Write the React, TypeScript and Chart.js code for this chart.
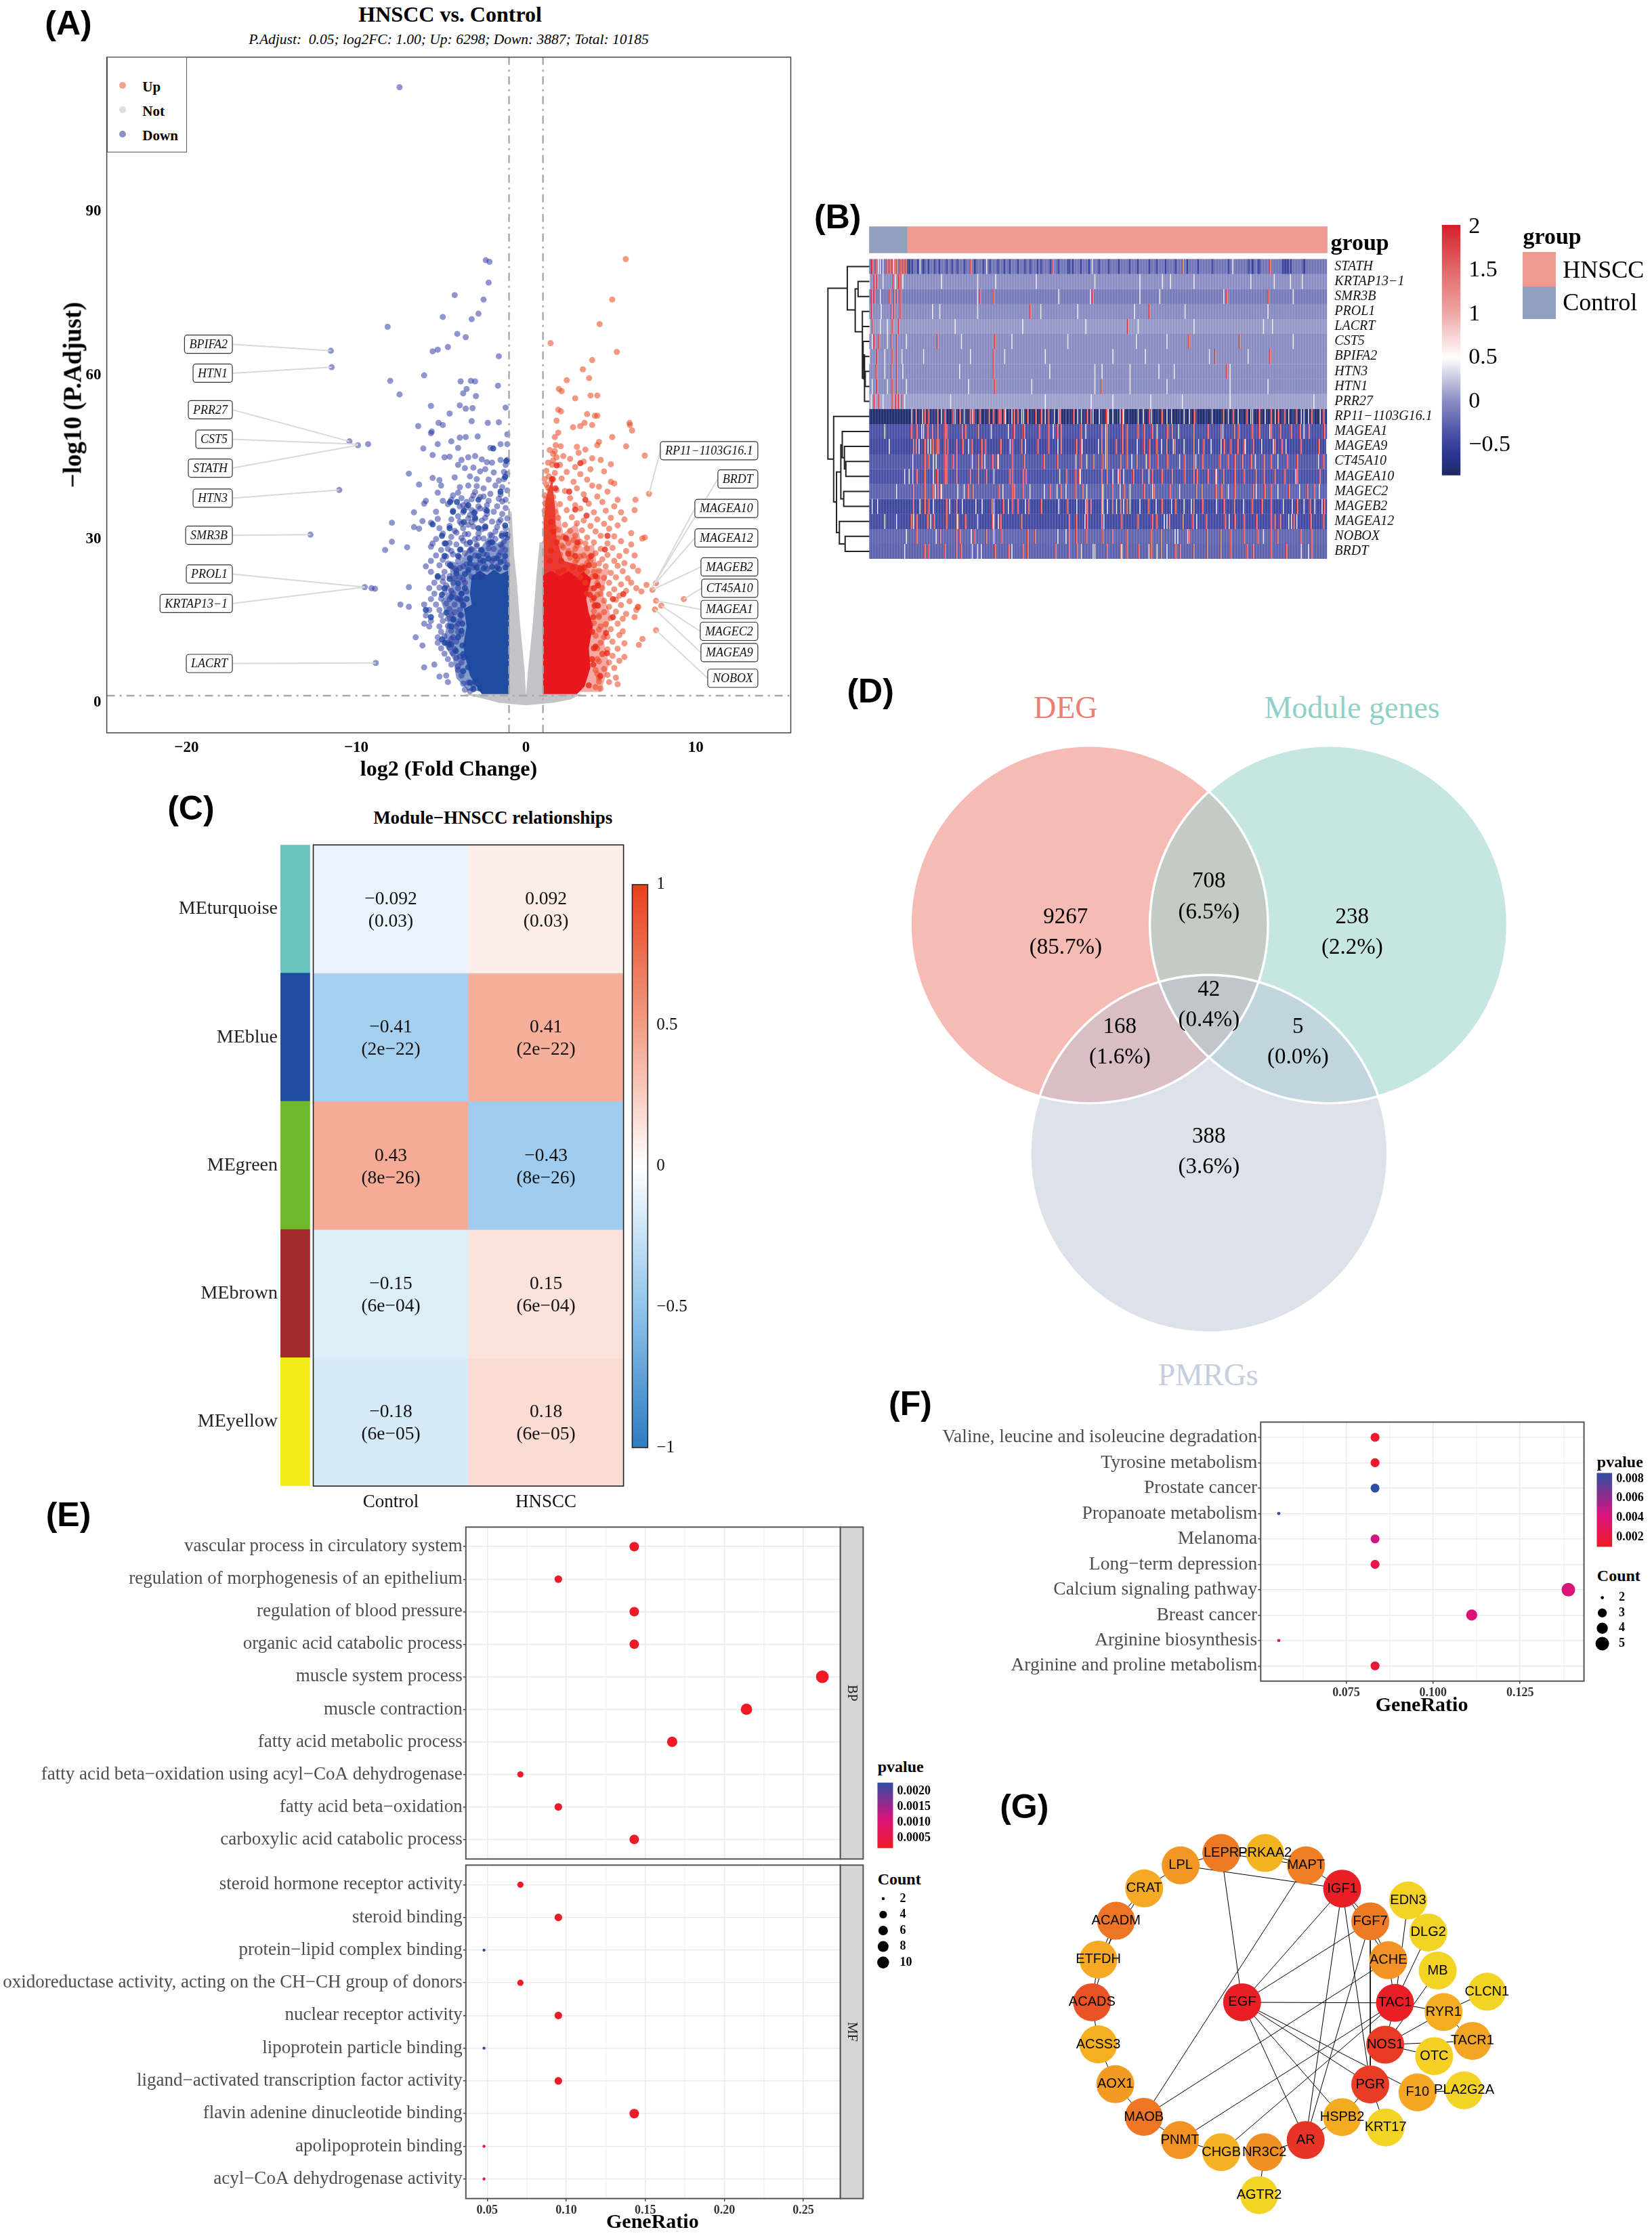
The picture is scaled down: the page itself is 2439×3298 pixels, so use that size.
import React, { useEffect, useRef } from "react";
import { Chart, registerables } from "chart.js";
Chart.register(...registerables);

const SERIF = "'Liberation Serif'";
const SANS = "'Liberation Sans'";
Chart.defaults.font.family = SERIF;
const SX = 3298 / 1568;
const SY = 3298 / 1568;

/* ---------- Panel A data ---------- */
const volcanoX = { min: -24.7, max: 15.6 };
const volcanoY = { min: -5.5, max: 118.3 };
const fcCut = 1;
const padjCut = 1.3;
const downPoints = [[-7.45,112.8],[-2.37,81.1],[-2.15,80.8],[-2.2,77],[-4.2,74.7],[-2.5,73.9],[-2.8,71.3],[-3.2,70.3],[-4.9,70.7],[-8.15,68.9],[-4.05,67.6],[-3.55,67],[-11.5,64.5],[-5.5,64.4],[-5.2,64.7],[-4.6,65.2],[-1.6,63.5],[-11.45,61.5],[-6,60],[-8,59],[-3.85,58.9],[-3.25,59],[-3,58.9],[-1.65,58.1],[-3.5,57.5],[-7.45,56.5],[-3.7,56.7],[-2.95,56.2],[-5.6,54.4],[-3.9,54.5],[-3.55,53.9],[-3.15,54],[-1.2,54.1],[-4.5,53],[-3.2,51.6],[-5.15,51.3],[-4.9,50.9],[-2.25,51.3],[-1.6,51.4],[-6.35,50.7],[-5.55,49.7],[-5.6,49.4],[-1.1,49.2],[-3.9,48.6],[-3.55,48.7],[-2.85,48.8],[-10.4,47.9],[-9.3,47.4],[-9.9,47.2],[-4.4,47.9],[-5.2,47.4],[-1.5,47.4],[-1.1,47.4],[-6.05,46.6],[-4,46.7],[-2.1,46.7],
[-5.5,45.4],[-4.8,45],[-4.5,45.1],[-3.8,44.5],[-3.4,45],[-3,45.2],[-2.6,44.6],[-2.3,44.1],[-2,44],[-1.5,44.5],[-1.1,44.5],[-1.2,43.6],[-4,43.6],[-3.6,43],[-3.1,43.1],[-2.7,42.4],[-2.4,42.8],[-1.9,42.2],[-1.3,42.3],[-1.1,42],[-6.9,42],[-5.5,41.2],[-5.1,40.8],[-4.2,41.3],[-3.3,41.5],[-2.9,41],[-2.2,40.9],[-1.6,40.7],[-1.3,41],[-6.3,40],[-5,39.8],[-3.9,39.5],[-3.4,39.8],[-2.5,39.3],[-1.8,39.8],[-1.4,39.5],[-4,38.5],[-5.2,38.5],[-3,38.6],[-2.1,38.3],[-1.5,38.2],[-5.9,37],[-4.9,37],[-4.4,37.2],[-3.8,37.5],[-3.2,37.3],[-2.7,37.7],[-2.2,37],[-1.2,37.2],[-6,36.5],[-4.6,36.4],[-3.9,36],[-3.5,35.8],[-2.8,36],[-2.4,35.4],[-1.7,36],[-6.6,34.9],[-5.3,35],[-4.3,35.2],[-3.7,34.9],[-3,35],[-2.3,34.6],[-1.9,35],[-1.4,34.6],
[-7.9,33],[-6.1,33.3],[-5.6,33],[-5.2,33.7],[-4.4,33.6],[-3.9,33.2],[-3.4,33.8],[-3.2,33.1],[-2.6,33.4],[-2,33.2],[-1.5,33.5],[-6.6,32.2],[-6.3,31.9],[-5.1,32],[-4.5,32.4],[-3.7,32],[-3.1,32.3],[-2.4,32],[-1.7,32.2],[-1.2,32],[-4.9,31],[-4.1,31.2],[-3.4,30.9],[-2.8,31],[-2.1,30.8],[-1.4,31],[-12.7,30.8],[-5.3,30],[-4.4,30.4],[-3.8,30.2],[-3,30],[-2.5,30.1],[-1.8,30],[-1.1,30.3],[-7.9,29.5],[-5.5,29.2],[-4.8,29.2],[-4.1,29],[-3.5,29.1],[-2.9,29],[-2.2,29.2],[-1.5,29],[-8.3,28],[-7,28.5],[-5.6,28.6],[-4.6,28.2],[-3.9,28],[-3.2,28.1],[-2.6,28],[-1.9,28.2],[-1.2,28],[-5.3,27],[-4.3,27.2],[-3.6,27.4],[-3,27],[-2.3,27.1],[-1.6,27],[-5.6,26],[-4.9,26.2],[-4,26],[-3.3,26.3],[-2.7,26.2],[-2,26],[-1.3,26],[-5.9,25],[-5.1,25.2],[-4.4,25],[-3.7,25],[-3,25.2],[-2.4,25],[-1.7,25],[-5.6,24],[-4.8,24],[-4.1,24.2],[-3.4,24],[-2.8,24],[-5.2,23],[-4.5,23.2],[-3.9,23],[-3.2,23.1],[-2.6,23],[-9.5,21.2],[-9.1,21],[-8.9,20.9],[-6.9,21.2],[-5.4,22],[-4.9,22.2],[-4.3,22],[-3.6,22],[-5.7,21],[-5.1,21.1],[-4.6,21],[-4,21],[-5.4,20],[-4.8,20.2],[-4.3,20],[-3.8,20],[-7.4,18],[-6.9,17.6],[-6,18],[-5.6,19],[-5,19.1],[-4.5,19],[-4,19],[-5.7,17],[-5.3,18],[-4.7,18.2],[-4.2,18],[-3.7,18],[-5.9,16],[-5.1,17],[-4.5,17.2],[-3.9,17],[-5.6,15],[-5,16],[-4.4,16.1],[-3.8,16],[-6,14.5],[-5.7,14],[-4.9,15],[-4.3,15.2],[-3.9,15],[-6.5,12],[-5.1,14],[-4.6,14.1],[-4.1,14],[-5,13],[-4.4,13.2],[-4,13],[-5.2,12],[-4.8,12.2],[-4.3,12],[-6.1,10.5],[-5.2,11],[-4.6,11],[-4.1,11.2],[-5,10],[-4.5,10.1],[-8.85,7.3],[-6,6.5],[-5.4,7],[-4.8,9],[-4.3,9.1],[-4.6,8],[-4.1,8.2],[-5.1,4.8],[-4.7,5],[-4.4,7],[-4,6],[-4.6,3.8],[-3.8,5],[-3.7,3.5],[-3.6,2.4],[-3.3,2.1],[-11,39],
[-4.6,25.5],[-4.4,27.8],[-4.2,24.6],[-3.9,26.7],[-3.7,29.7],[-3.5,25.4],[-3.3,27.9],[-3.1,24.8],[-2.9,28.7],[-2.7,25.6],[-2.5,27.3],[-2.3,24.5],[-2.1,29.4],[-1.9,26.4],[-1.7,24.7],[-1.5,27.6],[-1.3,29.6],[-1.1,25.3],[-4.5,29.3],[-4.2,31.5],[-3.8,32.8],[-3.6,30.9],[-3.4,32.6],[-3.2,35.3],[-3,33.6],[-2.8,30.2],[-2.6,31.8],[-2.4,33.9],[-2.2,28.3],[-2,30.6],[-1.8,31.4],[-1.6,33.1],[-1.4,28.6],[-1.2,30.9],[-3.5,36.8],[-3.1,38],[-2.9,39.7],[-2.7,35.6],[-2.5,37.8],[-3.3,34.4],[-3.7,36.2],[-4,34.2],[-4.3,38],[-2.3,36.2],[-1.1,33.8],[-1.2,35.7],[-1.4,36.9],[-1.1,38.9],[-1.6,37.4],[-4.7,26.8],[-5,28],[-4.9,23],[-4.7,21.5],[-4.4,20.5],[-4.2,22.8],[-3.9,24.7],[-3.7,22.6],[-3.5,20.4],[-4.1,19.2],[-3.8,18.6],[-4.6,15.4],[-4.2,16.6],[-4,14.5],[-3.8,12.6],[-4.4,11.7],[-4.2,9.8],[-3.9,8.5],[-4,6.7],[-3.8,7.4],[-3.4,3.7],[-3.1,3.2]];
const upPoints = [[5.88,81.3],[5.08,73.9],[4.34,69.4],[1.45,65.9],[5.35,64.3],[3.9,62.8],[3.35,61.1],[3.72,59.5],[2.4,59.1],[1.94,57.5],[2.1,57.1],[3.8,56.3],[4.2,56.3],[2.9,55.8],[1.9,53.7],[2.06,53.4],[3.6,52.9],[4.06,52.6],[4.2,52.6],[1.8,51.7],[6.1,51.3],[6.12,50.9],[6.25,49.9],[3.45,51.3],[2.77,50.5],[3.2,50.7],[3.9,50.9],[1.9,49.5],[1.7,48.7],[5.08,48.7],[4.3,47.8],[5.9,47],[1.75,47.2],[2.05,47],[3,46.9],[7,45.3],[4.2,47.2],[7.25,38.3],[6.45,37.2],[6.4,35.3],[7,30.3],[6.85,30.1],[9.3,19],[7.66,21.9],[7.1,21.6],[6.8,20.4],[7.45,20.7],[7.66,18.7],[7.97,17.8],[7.6,17.1],[7.66,13.3],[6.5,17],[6.6,17.5],[6.86,11.7],[6.65,10.6],
[1.4,46.3],[1.6,45.6],[1.8,45],[2.2,45.2],[2.6,44.7],[3.1,45.8],[3.5,46.4],[3.9,44.8],[1.3,44],[2,43.6],[2.9,43.2],[3.4,44.2],[4.4,44.5],[5,43.7],[1.2,42.5],[1.7,42.1],[2.4,42.3],[3.2,41.9],[3.8,42.8],[4.6,42.4],[1.1,41],[1.5,40.6],[2.1,41.1],[2.8,40.5],[3.6,40.9],[5,40.5],[5.2,40.2],[1.3,39.4],[1.8,39],[2.3,38.8],[3,39.3],[3.9,39.8],[4.3,39.6],[4.8,38.7],[1.1,38],[1.6,37.7],[2.6,37.5],[3.4,38.2],[4.2,37.8],[5.4,37.2],[1.3,36.6],[2,36.4],[2.9,36.2],[3.7,36.5],[4.5,36.8],[5.2,36],[1.1,35.2],[1.7,35],[2.4,35.3],[3.2,35.6],[4,34.9],[4.7,35.2],[5.6,34.9],
[1.2,34],[1.9,33.9],[2.7,34],[3.4,33.4],[4.2,33.6],[5,33.9],[5.8,33.6],[1.5,33],[2.3,32.6],[3,32.9],[3.8,32.4],[4.6,32.8],[5.4,32.5],[1.2,31.8],[1.9,31.7],[2.6,31.5],[3.3,31.6],[4.1,31.4],[4.9,31.9],[6.2,31.1],[1.5,30.6],[2.2,30.4],[2.9,30.6],[3.6,30.3],[4.4,30.6],[5.2,30.5],[1.2,29.6],[1.8,29.4],[2.5,29.3],[3.2,29.5],[4,29.4],[4.8,29.2],[5.6,29.6],[6.2,29],[1.5,28.4],[2.2,28.5],[2.9,28.2],[3.6,28.3],[4.4,28.2],[5.1,28.4],[5.9,27.8],[1.3,27.4],[2,27.2],[2.7,27.3],[3.4,27],[4.1,27.4],[4.8,27.1],[5.5,26.9],[6.4,27],[3,26.2],[3.8,26.1],[4.5,26.3],[5.2,26],[5.8,25.6],[3.3,25],[4,25.2],[4.7,25],[5.4,25.1],[6.3,25],[3.6,24],[4.3,24.2],[5,23.8],[5.7,24.1],[6.6,24.2],[3.2,23],[3.9,23.1],[4.6,22.9],[5.3,23],[6,22.8],
[3.5,22],[4.2,21.9],[4.9,22],[5.6,21.7],[6.2,22],[3.8,20.9],[4.5,21],[5.2,20.8],[5.9,20.5],[6.5,21],[3.6,20],[4.2,19.8],[4.9,19.9],[5.5,19.6],[3.9,18.9],[4.6,18.7],[5.3,18.9],[6.1,18.6],[4.2,17.8],[4.9,17.6],[5.6,17.9],[6.6,17.6],[4,16.8],[4.6,16.6],[5.3,16.7],[5.9,16.3],[4.3,15.7],[5,15.5],[5.7,15.4],[6.4,15.7],[4,14.6],[4.7,14.4],[5.4,14.5],[4.3,13.4],[5,13.5],[5.7,13.1],[4.1,12.3],[4.8,12.1],[5.5,12.4],[4.4,11],[5.1,11.2],[5.8,10.9],[4.2,10],[4.8,9.8],[5.4,9.9],[4.5,8.9],[5.1,8.6],[5.8,8.4],[4.3,7.6],[4.9,7.4],[5.5,7.7],[4.6,6.2],[5.2,6.4],[4.2,5.3],[4.8,5.1],[5.3,4.6],[4.3,3.9],[4.9,3.8],[5.4,3.4],[4.4,2.6],[4.1,2.9],
[1.3,37],[1.4,35],[1.2,33],[1.5,31],[1.3,29],[1.6,28],[1.4,26],[1.7,25],[2.2,25.5],[2.6,24.6],[2.9,25.8],[3.3,24.4],[3.6,25.6],[4,24],[4.2,23],[4.4,20],[4.1,18],[4.3,16],[4.4,14],[4.6,12],[4.5,9],[4.2,8],[4.1,6],[4.3,4.6],[1.2,40],[1.4,39],[1.6,41],[1.55,43.6],[1.6,44.4],[1.7,46.1],[2.5,27.8],[3,28.8],[3.5,29.2],[2.4,30],[2.8,29.8],[3.7,26.6],[4.3,25.5],[2.1,28.8],[2.6,26.6],[3.2,26.8],[1.9,30.2],[1.7,32],[1.4,33.8],[1.25,31],[1.15,36.5],[1.35,41.5],[1.45,37.9]];
const downCore = [[-4.74,29.2],[-3.86,28.1],[-3.3,29.4],[-2.65,28],[-2,29.4],[-1.43,30.6],[-1.1,30.8],[-1.23,32.5],[-2.4,32.3],[-2.8,32],[-3.66,33.1],[-4.5,32],[-4.95,30.6],[-5.5,32.7],[-2.3,35.2],[-3.05,34.8],[-3.66,35.2],[-4.3,35],[-3,33.9],[-4.07,36.8],[-4.47,36.8],[-3.4,36.2],[-2.8,37.2],[-1.5,38.7],[-1.16,44.3],[-1.23,41.4],[-1.93,46.6],[-4.8,26.9],[-4.47,25.2],[-4,26.9],[-3.3,26.5],[-2.5,26],[-1.7,26.5],[-1.23,26.9],[-5.2,23.2],[-4.5,22.7],[-4,21.9],[-3.6,23.6],[-4.8,21],[-4.4,19.4],[-3.86,19],[-3.7,17.8],[-4.95,19.8],[-4.7,16.5],[-4.27,15.3],[-3.86,16.1],[-5.6,15.7],[-5.9,17],[-4.4,14],[-3.8,13.2],[-4.95,11.6],[-4.4,10.7],[-4,12],[-4.13,9.5],[-3.66,8.3],[-3.7,5.8],[-3.3,3.7],[-3.1,2.5],[-4.8,11],[-4.54,10.7],[-3.4,24.4],[-3.6,21],[-3.5,19],[-3.3,25.5],[-2.9,24.8],[-2.5,24.6],[-2,24.9],[-1.6,24.5],[-1.2,24.8],[-3.8,20],[-4.1,23.7],[-2.8,26.9],[-2.2,26.4],[-1.5,25.8],[-3.75,14.5],[-3.75,10.5],[-3.7,8.9],[-3.4,6.5],[-3,3.9],[-2.7,2.6]];
const upCore = [[1.54,41],[1.74,39.3],[1.47,33.1],[1.6,31.4],[1.47,27.9],[1.4,26],[2.9,26.9],[2.76,24.8],[3.43,24.8],[3.84,26.9],[4.1,23.2],[4.65,28.1],[4.8,30.6],[3.57,34.3],[2.9,35.4],[3.5,37.2],[2.55,38.7],[1.81,43.5],[3.2,43.9],[2.35,30.2],[3.03,29.4],[4.04,17.8],[4.24,17.8],[3.97,15.7],[5.12,15.7],[4.1,10.3],[4.78,9.1],[3.97,7],[4.38,4.9],[5.12,19],[5.73,19.9],[4.72,12.8],[4.24,21.5],[3.77,19.8],[3.7,25.2],[1.81,29.4],[2.08,26],[2.49,27.3],[2.2,24.3],[1.9,23.9],[3.2,24.5],[4,21],[4,19.2],[3.9,13],[4,10],[3.9,8],[3.7,3.2]];
const downDense = [[-1,24.3],[-1.5,23.6],[-1.9,24.4],[-2.3,23.4],[-2.7,24.2],[-3.2,23.2],[-3.3,20],[-3.2,18],[-3.65,17.2],[-3.5,14],[-3.7,10.5],[-3.55,8],[-3.3,5],[-3,3.4],[-2.6,1.6],[-1,1.6]];
const downHalo = [[-1,31],[-1.6,29],[-2.2,30.5],[-2.8,27.8],[-3.3,29],[-3.9,25.5],[-4.5,26],[-4.4,21],[-5,18.5],[-4.6,15],[-4.9,11],[-4.3,8],[-4.1,4.5],[-3.4,2.2],[-1,2]];
const upDense = [[1,23.4],[1.5,24.2],[2,23.2],[2.5,24.1],[3,23],[3.4,24],[3.85,22.8],[3.55,19],[3.7,16.5],[3.95,14.3],[3.7,10],[3.8,6.5],[3.45,3],[3,1.6],[1,1.6]];
const upColumn = [[1.05,22],[1.05,33],[1.2,38],[1.55,41],[1.7,36],[1.8,30],[2.2,26],[3.4,25],[3.6,22]];
const upHalo = [[1,38],[1.8,37],[2.2,31],[3,33],[3.3,28.5],[4,29],[4.2,24.5],[4.9,24.5],[4.5,20],[5,16],[4.6,11],[4.9,7],[4.4,2],[1,2]];
const notLeft = [[-1,35.2],[-0.85,35],[-0.7,27],[-0.55,22.7],[-0.35,14.5],[-0.08,6],[0,1.3],[-1,1.3]];
const notRight = [[1,29.4],[0.8,29.4],[0.6,22.7],[0.4,14.5],[0.12,6],[0,1.3],[1,1.3]];
const notBowl = [[-3.7,1.6],[-2.3,0.6],[-1.6,0],[0,-0.45],[1.6,0],[2.6,0.6],[3.3,1.6]];
const leftTags = [["BPIFA2",65.7,-11.5,64.5],["HTN1",60.4,-11.45,61.5],["PRR27",53.7,-10.4,47.9],["CST5",48.3,-9.9,47.4],["STATH",43,-9.9,47.2],["HTN3",37.5,-11,39],["SMR3B",30.7,-12.7,30.8],["PROL1",23.6,-9.5,21.2],["KRTAP13\u22121",18.2,-9.5,21.2],["LACRT",7.2,-8.85,7.3]];
const rightTags = [["RP11\u22121103G16.1",46.2,7.25,38.3],["BRDT",41,7.4,21],["MAGEA10",35.6,7.5,21.5],["MAGEA12",30.2,7.66,22],["MAGEB2",24.9,7.45,20.7],["CT45A10",21,9.3,19],["MAGEA1",17.1,7.66,18.7],["MAGEC2",13.1,7.97,17.8],["MAGEA9",9.2,7.6,17.1],["NOBOX",4.5,7.66,13.3]];
const leftTagEdge = -17.3;
const rightTagEdge = 13.66;

/* ---------- Panel B data ---------- */
const heatCols = 508;
const controlCols = 42;
const heatGenes = ["STATH","KRTAP13\u22121","SMR3B","PROL1","LACRT","CST5","BPIFA2","HTN3","HTN1","PRR27","RP11\u22121103G16.1","MAGEA1","MAGEA9","CT45A10","MAGEA10","MAGEC2","MAGEB2","MAGEA12","NOBOX","BRDT"];
const heatBase = [-0.15,0,-0.12,-0.02,0.05,-0.01,-0.01,-0.02,-0.02,0.08,-0.8,-0.38,-0.46,-0.33,-0.38,-0.27,-0.47,-0.43,-0.25,-0.27];
const heatRed = [
 [2,3,7,19,22,25,28,30,34,37,40,112,203,347,444],
 [5,8,26,32,34],
 [2,5,22,27,30,34,122,137,247,396,442],
 [2,24,27,34,178,310],
 [3,25,32,286],
 [5,10,24,30,75,139,354,410],
 [8,25,30,137,383,444],
 [7,24,30,137,396],
 [8,25,30,139,257],
 [5,10,25,29,32,36],
 [51,61,65,75,83,92,100,111,115,122,132,137,143,145,149,160,164,175,184,190,198,211,226,241,245,262,263,280,310,324,360,392,403,418,432,445,453,460,473,490,503],
 [46,52,64,69,75,83,85,102,106,120,159,160,170,171,188,198,208,212,234,257,263,280,285,297,304,313,330,335,359,375,389,404,409,424,432,445,455,467,477,487,504],
 [48,51,61,70,74,76,83,86,96,103,113,124,128,145,158,168,186,198,212,229,234,257,263,273,280,285,304,310,318,329,338,359,370,393,400,408,415,425,449,457,478,498],
 [61,65,83,85,92,96,120,124,136,141,158,171,193,208,234,248,258,263,278,285,296,310,319,330,349,359,369,388,397,405,413,423,437,445,463,474,503],
 [52,60,61,74,75,83,85,96,111,120,129,155,158,170,173,218,228,232,257,263,277,292,302,313,324,335,349,359,363,375,383,392,405,415,428,437,449,460,474,499],
 [48,61,70,75,78,109,114,143,158,160,170,200,212,228,236,257,269,282,304,315,333,362,368,384,390,405,425,438,445,465,485,493],
 [48,61,65,85,96,135,148,158,164,176,190,219,241,245,257,269,278,285,309,324,339,359,369,393,404,424,435,445,474,488,504],
 [46,52,64,71,85,96,106,136,145,168,221,229,241,257,279,297,313,318,332,347,358,373,394,405,415,429,445,449,455,470,489,503],
 [52,78,96,100,116,129,146,175,183,221,229,240,258,269,285,312,323,354,374,389,400,415,430,445,452,478,490],
 [61,65,83,96,101,139,154,170,175,206,221,230,263,278,285,298,312,323,339,344,359,374,389,400,418,425,445,462,490]
];
const heatWhite = [
 [10,12,15,27,56,130,247,403],
 [0,15,29,37,80,120,140,185,250,300,325,334,360,423,449,467,480],
 [12,245,322,393,120,210,300,470],
 [13,78,120,231,294,442,70,190,350],
 [0,12,20,95,298,437,447,170,240,360],
 [3,20,41,102,158,296,220,330,470],
 [0,17,36,112,195,306,377,60,150,270,420],
 [17,37,250,258,289,321,338,100,200,400],
 [3,20,41,250,289,400,442,110,180,330],
 [2,15,39,195,246,312,347,493,90,270,400],
 [47,59,62,80,95,100,105,114,151,158,169,171,195,205,210,231,235,248,255,265,270,278,282,298,304,313,330,335,349,355,380,398,409,423,425,439,450,465,479,482,487,500],
 [17,47,58,60,135,154,172,204,240,262,319,343,392,444,467,482],
 [22,55,65,68,110,156,173,209,236,254,262,297,318,324,337,349,365,379,390,417,435,448,462,507],
 [48,71,74,114,128,143,229,241,262,291,307,344,362,428,453,498],
 [39,44,48,71,138,170,211,234,270,276,282,310,375,385,473],
 [30,61,73,80,98,105,148,178,194,208,218,241,259,278,289,314,344,368,398,429,453,477,499],
 [3,9,48,56,71,89,103,118,125,138,154,159,173,210,230,240,259,264,274,282,289,300,318,335,349,357,385,415,459,469,482,494,502],
 [17,30,49,68,98,120,138,143,239,260,327,330,363,399,465,468,474],
 [41,74,113,138,209,218,313,339,342,353,415,437],
 [39,83,114,120,124,158,235,248,250,280,310,319,330,462,479,487]
];
const heatDark = [
 [41,42,43,44,45,47,48,53,54,55,59,60,61,65,66,72,73,77,78,85,86,91,92,97,98,105,106,116,117,118,126,127,133,134,142,143,149,150,155,156,164,165,172,173,178,179,186,187,190,191,200,201,209,210,220,221,222,225,226,234,235,243,244,254,255,265,266,276,277,288,289,297,298,310,311,318,319,328,329,339,340,352,353,364,365,380,381,398,399,420,421,424,425,426,431,432,433,458,459,460,461,462,463,464,465,467,468,481,482,483],
 [],[],[],[],[],[],[],[],[],
 [56,69,72,85,97,107,118,128,138,155,168,180,192,202,218,222,238,258,275,288,303,320,344,363,373,413,433,458,470,493,505],
 [],[],[],[],[],[],[],[],[]
];
const heatDarkValue = [-0.48,0,0,0,0,0,0,0,0,0,-0.38,0,0,0,0,0,0,0,0,0];
const heatStops = [[-0.85,"#1c2a63"],[-0.62,"#2a3590"],[-0.4,"#454ca3"],[0,"#8a8dc2"],[0.5,"#ffffff"],[1,"#efa9a7"],[1.5,"#e2696a"],[2.03,"#d4202a"]];
const heatTicks = [2,1.5,1,0.5,0,-0.5];
const groupCounts = [controlCols, heatCols - controlCols];
const groupNames = ["Control","HNSCC"];
const groupColors = ["#929fbf","#ee9c92"];
const treeBrackets = [[6,7.5,0,8.5,0],[8,6.5,0,8,6],[9,5.5,0,7.25,8],[7,9.5,0,6.4,9],[10,4.5,0,7.95,7],[10,3.5,0,6.2,10],[16,1.5,0,2.5,0],[20,2,16,4.85,10],[31,0.5,0,3.4,20],[33,13.5,0,14.5,0],[35,12.5,0,14,33],[38,11.5,0,13.25,35],[36,15.5,0,16.5,0],[40,12.4,38,16,36],[34,18.5,0,19.5,0],[42,17.5,0,19,34],[46,14.2,40,18.25,42],[50,10.5,0,16.2,46],[58,1.95,31,13.35,50]];

/* ---------- Panel C data ---------- */
const moduleNames = ["MEturquoise","MEblue","MEgreen","MEbrown","MEyellow"];
const moduleColors = ["#67c4be","#1f4d9f","#6fb92c","#a32a2a","#f3ec19"];
const traitNames = ["Control","HNSCC"];
const controlCor = [-0.092,-0.41,0.43,-0.15,-0.18];
const hnsccCor = [0.092,0.41,-0.43,0.15,0.18];
const corP = ["0.03","2e\u221222","8e\u221226","6e\u221204","6e\u221205"];
const corStops = [[-1,"#2f7cc2"],[-0.5,"#90c5ec"],[0,"#ffffff"],[0.5,"#f39d85"],[1,"#e8401c"]];
const corTicks = [1,0.5,0,-0.5,-1];

/* ---------- Panel D data ---------- */
const vennSets = [
 { name: "DEG", x: 764.5, y: 649, fill: "rgba(240,120,107,0.5)" },
 { name: "Module genes", x: 932.5, y: 649, fill: "rgba(160,213,207,0.6)" },
 { name: "PMRGs", x: 848.5, y: 810, fill: "rgba(187,195,213,0.5)" }
];
const vennRadius = 264;
const vennCounts = [["9267","(85.7%)",748,644],["708","(6.5%)",848.5,619],["238","(2.2%)",949,644],["168","(1.6%)",786,721],["42","(0.4%)",848.5,695],["5","(0.0%)",911,721],["388","(3.6%)",848.5,798]];

/* ---------- Panel E data ---------- */
const bpTerms = ["vascular process in circulatory system","regulation of morphogenesis of an epithelium","regulation of blood pressure","organic acid catabolic process","muscle system process","muscle contraction","fatty acid metabolic process","fatty acid beta\u2212oxidation using acyl\u2212CoA dehydrogenase","fatty acid beta\u2212oxidation","carboxylic acid catabolic process"];
const bpRatio = [0.143,0.095,0.143,0.143,0.262,0.214,0.167,0.071,0.095,0.143];
const bpCount = [6,4,6,6,11,9,7,3,4,6];
const bpP = [0.00002,0.00003,0.00002,0.00003,0.00001,0.00001,0.00002,0.00005,0.00004,0.00003];
const mfTerms = ["steroid hormone receptor activity","steroid binding","protein\u2212lipid complex binding","oxidoreductase activity, acting on the CH\u2212CH group of donors","nuclear receptor activity","lipoprotein particle binding","ligand\u2212activated transcription factor activity","flavin adenine dinucleotide binding","apolipoprotein binding","acyl\u2212CoA dehydrogenase activity"];
const mfRatio = [0.071,0.095,0.048,0.071,0.095,0.048,0.095,0.143,0.048,0.048];
const mfCount = [3,4,2,3,4,2,4,6,2,2];
const mfP = [0.00005,0.00002,0.0022,0.00007,0.00003,0.0022,0.00003,0.00002,0.0006,0.0005];
const eMajor = [0.05,0.1,0.15,0.2,0.25];
const eMinor = [0.075,0.125,0.175,0.225];
const eSizes = { 2: 2.2, 3: 4.6, 4: 5.6, 6: 7, 7: 7.6, 8: 8, 9: 8.4, 10: 8.8, 11: 9.4 };
const ePTicks = [0.002,0.0015,0.001,0.0005];
const eCountKeys = [2,4,6,8,10];

/* ---------- Panel F data ---------- */
const keggTerms = ["Valine, leucine and isoleucine degradation","Tyrosine metabolism","Prostate cancer","Propanoate metabolism","Melanoma","Long\u2212term depression","Calcium signaling pathway","Breast cancer","Arginine biosynthesis","Arginine and proline metabolism"];
const keggRatio = [0.0833,0.0833,0.0833,0.0556,0.0833,0.0833,0.1389,0.1111,0.0556,0.0833];
const keggCount = [3,3,3,2,3,3,5,4,2,3];
const keggP = [0.0008,0.0006,0.0086,0.0086,0.0045,0.0018,0.0038,0.004,0.0042,0.0009];
const fMajor = [0.075,0.1,0.125];
const fMinor = [0.0625,0.0875,0.1125,0.1375];
const fSizes = { 2: 2.4, 3: 6.6, 4: 8.2, 5: 10 };
const fPTicks = [0.008,0.006,0.004,0.002];
const fCountKeys = [2,3,4,5];
const pStops = ["#ef1a23","#d7137f","#2d4ea2"];

/* ---------- Panel G data ---------- */
const netNodes = [["LEPR",669,266,"#ee7b22"],["PRKAA2",795,266,"#f3b21f"],["MAPT",913,308,"#ef7e24"],["IGF1",1017,387,"#e91f26"],["FGF7",1098,498,"#ef7a25"],["ACHE",1150,630,"#f39325"],["TAC1",1169,775,"#e91f26"],["NOS1",1141,917,"#e93a26"],["PGR",1098,1052,"#e83c24"],["HSPB2",1017,1163,"#f3ab22"],["AR",912,1241,"#e83427"],["NR3C2",793,1282,"#f09022"],["CHGB",669,1282,"#f5b224"],["PNMT",550,1241,"#f19223"],["MAOB",446,1162,"#ee7625"],["AOX1",364,1051,"#f39a22"],["ACSS3",315,916,"#f5b022"],["ACADS",297,773,"#e95326"],["ETFDH",315,628,"#f5a924"],["ACADM",366,496,"#ee7426"],["CRAT",447,386,"#f5a924"],["LPL",552,308,"#f49623"],["EGF",729,773,"#e91f26"],["EDN3",1207,427,"#f3d325"],["DLG2",1265,536,"#f3d325"],["MB",1292,665,"#f3d325"],["CLCN1",1434,737,"#f3d325"],["RYR1",1309,806,"#f5ae24"],["TACR1",1392,904,"#f5a524"],["OTC",1282,956,"#f5d024"],["F10",1234,1079,"#f5a723"],["PLA2G2A",1368,1072,"#f3d325"],["KRT17",1142,1198,"#f3d325"],["AGTR2",778,1428,"#f3d325"]];
const netEdges = ["LEPR-EGF","LPL-IGF1","MAPT-MAOB","IGF1-EGF","FGF7-EGF","EGF-TAC1","EGF-PGR","EGF-F10","EGF-HSPB2","EGF-AR","ACHE-MAOB","TAC1-PNMT","TAC1-CHGB","IGF1-AR","IGF1-PGR","FGF7-AR","FGF7-PGR","IGF1-FGF7","IGF1-ACHE","FGF7-ACHE","MAPT-IGF1","PRKAA2-MAPT","LEPR-PRKAA2","LEPR-MAPT","LPL-LEPR","CRAT-LPL","ACADM-CRAT","ETFDH-ACADM","ETFDH-CRAT","ACADS-ETFDH","ACADS-ACADM","ACSS3-ACADS","AOX1-ACSS3","MAOB-AOX1","MAOB-PNMT","PNMT-CHGB","NR3C2-AR","NR3C2-AGTR2","AR-HSPB2","HSPB2-PGR","PGR-KRT17","TAC1-ACHE","TAC1-NOS1","TAC1-RYR1","TAC1-EDN3","TAC1-DLG2","NOS1-MB","NOS1-RYR1","NOS1-OTC","NOS1-TACR1","RYR1-CLCN1","RYR1-TACR1","PLA2G2A-F10"];

/* ---------- helpers ---------- */
const hex = (h: string) => [1, 3, 5].map((i) => parseInt(h.slice(i, i + 2), 16));
const mix = (a: string, b: string, t: number) => {
  const A = hex(a), B = hex(b);
  return `rgb(${A.map((v, i) => Math.round(v + (B[i] - v) * t)).join(",")})`;
};
const ramp = (stops: any[], v: number) => {
  if (v <= stops[0][0]) return stops[0][1];
  for (let i = 1; i < stops.length; i++) {
    if (v <= stops[i][0]) return mix(stops[i - 1][1], stops[i][1], (v - stops[i - 1][0]) / (stops[i][0] - stops[i - 1][0]));
  }
  return stops[stops.length - 1][1];
};
const pColor = (p: number, max: number) => {
  const t = Math.min(1, p / max);
  return t < 0.5 ? mix(pStops[0], pStops[1], t * 2) : mix(pStops[1], pStops[2], (t - 0.5) * 2);
};
const minus = (v: number | string) => String(v).replace("-", "\u2212");
const pairs = (a: number[][]) => a.map(([x, y]) => ({ x, y }));
const off = { display: true, grid: { display: false }, border: { display: false }, ticks: { display: false } };
const frame = (color: string, w: number) => ({
  id: "frame",
  afterDatasetsDraw(c: any) {
    const { left, top, right, bottom } = c.chartArea;
    c.ctx.save();
    c.ctx.strokeStyle = color;
    c.ctx.lineWidth = w;
    c.ctx.strokeRect(left, top, right - left, bottom - top);
    c.ctx.restore();
  }
});
function cfg(box: number[], plot: number[], type: string, data: any, scales: any, plugins: any[] = [], extra: any = {}) {
  const L = (plot[0] - box[0]) * SX, T = (plot[1] - box[1]) * SY, R = (box[2] - plot[2]) * SX, B = (box[3] - plot[3]) * SY;
  const yRight = scales.y.position === "right";
  const zero = (s: any) => { s.paddingTop = 0; s.paddingBottom = 0; s.paddingLeft = 0; s.paddingRight = 0; };
  scales.x.afterFit = (s: any) => { s.height = B; zero(s); };
  scales.y.afterFit = (s: any) => { s.width = yRight ? R : L; zero(s); };
  return {
    type, data, plugins,
    options: {
      responsive: false, maintainAspectRatio: false, animation: false, devicePixelRatio: 1,
      layout: { autoPadding: false, padding: { top: T, left: yRight ? L : 0, right: yRight ? 0 : R, bottom: 0 } },
      plugins: { legend: { display: false }, tooltip: { enabled: false } },
      events: [],
      scales, ...extra
    }
  };
}
function Box({ b, make }: { b: number[]; make: () => any }) {
  const ref = useRef<HTMLCanvasElement>(null);
  useEffect(() => {
    const c = new Chart(ref.current as any, make());
    return () => c.destroy();
  }, []);
  const w = Math.round((b[2] - b[0]) * SX), h = Math.round((b[3] - b[1]) * SY);
  return <canvas ref={ref} width={w} height={h} style={{ position: "absolute", left: b[0] * SX, top: b[1] * SY, width: w, height: h }} />;
}
function Tx({ x, y, s, size, bold, italic, color, align, rot, family }: any) {
  const tx = align === "left" ? "0" : align === "right" ? "-100%" : "-50%";
  return (
    <div style={{ position: "absolute", left: x * SX, top: y * SY, transform: `translate(${tx},-50%)${rot ? ` rotate(${rot}deg)` : ""}`, whiteSpace: "pre", lineHeight: 1, fontFamily: family || SERIF, fontSize: size, fontWeight: bold ? 700 : 400, fontStyle: italic ? "italic" : "normal", color: color || "#000" }}>{s}</div>
  );
}
function Rect({ l, t, r, b, bg, bd }: any) {
  return <div style={{ position: "absolute", boxSizing: "border-box", left: l * SX, top: t * SY, width: (r - l) * SX, height: (b - t) * SY, background: bg, border: bd }} />;
}
function colorBar(box: number[], plot: number[], min: number, max: number, ticks: number[], stops: any[], tickOpt: any, fmt: (v: number) => string, opts: any = {}) {
  return cfg(box, plot, "bar", {
    labels: [""],
    datasets: [{
      data: [[min, max]], barPercentage: 1, categoryPercentage: 1, borderWidth: 0,
      backgroundColor: (ctx: any) => {
        const a = ctx.chart.chartArea;
        if (!a) return "#888";
        const g = ctx.chart.ctx.createLinearGradient(0, a.bottom, 0, a.top);
        stops.forEach(([v, c]: any) => g.addColorStop(Math.max(0, Math.min(1, (v - min) / (max - min))), c));
        return g;
      }
    }]
  }, {
    x: { ...off },
    y: {
      position: "right", min, max, border: { display: false },
      grid: opts.grid || { display: false },
      afterBuildTicks: (s: any) => { s.ticks = ticks.map((value) => ({ value })); },
      ticks: { ...tickOpt, autoSkip: false, callback: (v: number) => fmt(v) }
    }
  }, opts.frame ? [frame(opts.frame, 1.5)] : []);
}
function countLegend(box: number[], plot: number[], keys: number[], sizes: any) {
  const n = keys.length;
  return cfg(box, plot, "bubble", {
    datasets: [{ data: keys.map((k, i) => ({ x: 0.5, y: i, r: sizes[k] })), backgroundColor: "#000", borderWidth: 0 }]
  }, {
    x: { ...off, min: 0, max: 1 },
    y: {
      position: "right", min: -0.5, max: n - 0.5, reverse: true, border: { display: false }, grid: { display: false },
      afterBuildTicks: (s: any) => { s.ticks = keys.map((_, i) => ({ value: i })); },
      ticks: { autoSkip: false, color: "#000", font: { size: 18, weight: "bold" }, padding: 4, callback: (v: number) => String(keys[v]) }
    }
  });
}
function dotChart(box: number[], plot: number[], xmin: number, xmax: number, terms: string[], ratio: number[], count: number[], ps: number[], pmax: number, sizes: any, major: number[], minor: number[], showX: boolean, expand: number, strip: string | null, fmt: (v: number) => string, labelSize: number) {
  const plugins: any[] = [frame("#555", 2)];
  if (strip) plugins.push({
    id: "strip",
    afterDraw(c: any) {
      const { right, top, bottom } = c.chartArea, g = c.ctx, w = 16 * SX;
      g.save();
      g.fillStyle = "#d6d6d6"; g.fillRect(right, top, w, bottom - top);
      g.strokeStyle = "#555"; g.lineWidth = 2; g.strokeRect(right, top, w, bottom - top);
      g.translate(right + w / 2, (top + bottom) / 2); g.rotate(Math.PI / 2);
      g.fillStyle = "#222"; g.font = `20px ${SERIF}`; g.textAlign = "center"; g.textBaseline = "middle";
      g.fillText(strip, 0, 0);
      g.restore();
    }
  });
  const xt = [...major, ...minor];
  return cfg(box, plot, "bubble", {
    datasets: [{
      data: terms.map((_, i) => ({ x: ratio[i], y: i, r: sizes[count[i]] })),
      backgroundColor: ps.map((p) => pColor(p, pmax)), borderWidth: 0
    }]
  }, {
    x: {
      min: xmin, max: xmax, border: { display: false },
      afterBuildTicks: (s: any) => { s.ticks = xt.sort((a, b) => a - b).map((value) => ({ value })); },
      grid: {
        color: (c: any) => (major.includes(c.tick?.value) ? "#ebebeb" : "#f3f3f3"), lineWidth: 1.5,
        drawTicks: showX, tickLength: 4, tickColor: (c: any) => (major.includes(c.tick?.value) ? "#444" : "rgba(0,0,0,0)")
      },
      ticks: { display: showX, autoSkip: false, maxRotation: 0, color: "#333", padding: 3, font: { size: 18, weight: "bold" }, callback: (v: number) => (major.includes(v) ? fmt(v) : "") }
    },
    y: {
      min: -expand, max: terms.length - 1 + expand, reverse: true, border: { display: false },
      afterBuildTicks: (s: any) => { s.ticks = terms.map((_, i) => ({ value: i })); },
      grid: { color: "#ebebeb", lineWidth: 1.5, tickLength: 4, tickColor: "#444" },
      ticks: { autoSkip: false, color: "#4d4d4d", padding: 1, font: { size: labelSize }, callback: (v: number) => terms[v] }
    }
  }, plugins);
}

/* ---------- chart builders ---------- */
function volcano() {
  const line = (d: number[][], color: string, dash: number[]) => ({ data: pairs(d), showLine: true, borderColor: color, borderDash: dash, borderWidth: 2.4, pointRadius: 0, fill: false });
  const poly = (d: number[][], color: string) => ({ data: pairs(d), showLine: true, fill: "shape", backgroundColor: color, borderWidth: 0, pointRadius: 0, tension: 0 });
  const pts = (d: number[][], color: string) => ({ data: pairs(d), pointRadius: 4.5, pointBackgroundColor: color, pointBorderWidth: 0, showLine: false });
  const tags = {
    id: "tags",
    afterDraw(c: any) {
      const g = c.ctx, sx = c.scales.x, sy = c.scales.y;
      g.save();
      g.font = `italic 18px ${SERIF}`; g.textBaseline = "middle"; g.textAlign = "center";
      const one = (t: any[], edge: number, left: boolean) => {
        const w = g.measureText(t[0]).width + 14, h = 27;
        const r = sx.getPixelForValue(edge), y = sy.getPixelForValue(t[1]);
        g.strokeStyle = "#d9d9d9"; g.lineWidth = 2; g.beginPath();
        g.moveTo(left ? r : r - w, y); g.lineTo(sx.getPixelForValue(t[2]), sy.getPixelForValue(t[3])); g.stroke();
        g.beginPath(); g.roundRect(r - w, y - h / 2, w, h, 4);
        g.fillStyle = "#fff"; g.fill(); g.strokeStyle = "#333"; g.lineWidth = 1.2; g.stroke();
        g.fillStyle = "#111"; g.fillText(t[0], r - w / 2, y + 1);
      };
      leftTags.forEach((t) => one(t, leftTagEdge, true));
      rightTags.forEach((t) => one(t, rightTagEdge, false));
      g.restore();
    }
  };
  const dash = [12, 7, 3, 7];
  return cfg([40, 36, 560, 535], [75, 40, 555, 514], "scatter", {
    datasets: [
      line([[-fcCut, volcanoY.min], [-fcCut, volcanoY.max]], "#a8a8a8", dash),
      line([[fcCut, volcanoY.min], [fcCut, volcanoY.max]], "#a8a8a8", dash),
      line([[volcanoX.min, padjCut], [volcanoX.max, padjCut]], "#a8a8a8", dash),
      pts(upCore, "rgba(232,40,25,0.8)"),
      pts(downCore, "rgba(31,70,160,0.82)"),
      pts(upPoints, "rgba(233,70,30,0.55)"),
      pts(downPoints, "rgba(40,52,160,0.52)"),
      poly(upDense, "#e8171c"),
      poly(downDense, "#1f4ba0"),
      poly(upColumn, "rgba(232,25,28,0.8)"),
      poly(upHalo, "rgba(235,50,40,0.42)"),
      poly(downHalo, "rgba(31,75,160,0.55)"),
      poly(notLeft, "#c4c4c8"),
      poly(notRight, "#c4c4c8"),
      poly(notBowl, "#c4c4c8")
    ]
  }, {
    x: {
      min: volcanoX.min, max: volcanoX.max, border: { display: false }, grid: { display: false, tickLength: 5, tickColor: "#333", drawOnChartArea: false },
      afterBuildTicks: (s: any) => { s.ticks = [-20, -10, 0, 10].map((value) => ({ value })); },
      ticks: { color: "#000", padding: 3, font: { size: 23, weight: "bold" }, callback: (v: number) => minus(v) }
    },
    y: {
      min: volcanoY.min, max: volcanoY.max, border: { display: false }, grid: { display: false, tickLength: 5, tickColor: "#333", drawOnChartArea: false },
      afterBuildTicks: (s: any) => { s.ticks = [0, 30, 60, 90].map((value) => ({ value })); },
      ticks: { color: "#000", padding: 3, font: { size: 23, weight: "bold" }, callback: (v: number) => String(v) }
    }
  }, [frame("#444", 1.5), tags]);
}
function heatmap() {
  const labels = Array.from({ length: heatCols }, (_, i) => String(i));
  const datasets = heatGenes.map((_, r) => {
    const row = labels.map(() => heatBase[r]);
    heatDark[r].forEach((c) => { row[c] = heatDarkValue[r]; });
    heatWhite[r].forEach((c) => { row[c] = 0.55; });
    heatRed[r].forEach((c) => { if (c + 1 < heatCols) row[c + 1] = 1.2; });
    heatRed[r].forEach((c) => { row[c] = 1.95; });
    return { data: labels.map(() => 1), backgroundColor: row.map((v) => ramp(heatStops, v)), barPercentage: 1, categoryPercentage: 1, borderWidth: 0, inflateAmount: 0.1, stack: "s" };
  });
  return cfg([608, 179, 1015, 396], [610, 182, 931.5, 392.7], "bar", { labels, datasets }, {
    x: { ...off, stacked: true },
    y: {
      position: "right", stacked: true, min: 0, max: heatGenes.length, reverse: true, border: { display: false }, grid: { display: false },
      afterBuildTicks: (s: any) => { s.ticks = heatGenes.map((_, i) => ({ value: i + 0.5 })); },
      ticks: { autoSkip: false, color: "#111", padding: 3, font: { size: 20, style: "italic" }, callback: (v: number) => heatGenes[v - 0.5] }
    }
  });
}
function groupBar() {
  return cfg([608, 157, 1000, 180], [610, 159, 931.5, 178], "bar", {
    labels: ["group"],
    datasets: groupCounts.map((v, i) => ({ label: groupNames[i], data: [v], backgroundColor: groupColors[i], barPercentage: 1, categoryPercentage: 1, borderWidth: 0 }))
  }, {
    x: { ...off, stacked: true, min: 0, max: heatCols },
    y: { ...off, position: "right", stacked: true }
  }, [], { indexAxis: "y" });
}
function dendrogram() {
  const d: any[] = [];
  treeBrackets.forEach(([h, a, ha, b, hb]) => {
    d.push({ x: ha, y: a }, { x: h, y: a }, { x: h, y: b }, { x: hb, y: b }, { x: NaN, y: NaN });
  });
  return cfg([578, 179, 612, 396], [580, 182, 610, 392.7], "scatter", {
    datasets: [{ data: d, showLine: true, borderColor: "#222", borderWidth: 2, pointRadius: 0, spanGaps: false }]
  }, { x: { ...off, min: 0, max: 60, reverse: true }, y: { ...off, min: 0, max: 20, reverse: true } });
}
function moduleStrip() {
  return cfg([100, 590, 220, 1046], [197, 593, 218, 1043], "bar", {
    labels: moduleNames,
    datasets: [{ data: moduleNames.map(() => 1), backgroundColor: moduleColors, barPercentage: 1, categoryPercentage: 1, borderWidth: 0 }]
  }, {
    x: { ...off, min: 0, max: 1 },
    y: { border: { display: false }, grid: { display: false, drawTicks: false }, ticks: { color: "#222", padding: 4, font: { size: 28 } } }
  }, [], { indexAxis: "y" });
}
function moduleHeat() {
  const cells = {
    id: "cells",
    afterDraw(c: any) {
      const g = c.ctx;
      g.save(); g.font = `27.5px ${SERIF}`; g.fillStyle = "#111"; g.textAlign = "center"; g.textBaseline = "middle";
      moduleNames.forEach((_, r) => {
        [controlCor, hnsccCor].forEach((arr, j) => {
          const p = c.getDatasetMeta(r).data[j].getCenterPoint();
          g.fillText(minus(arr[r]), p.x, p.y - 14);
          g.fillText(`(${corP[r]})`, p.x, p.y + 19);
        });
      });
      g.restore();
    }
  };
  return cfg([215, 590, 442, 1064], [220, 593, 438, 1043], "bar", {
    labels: traitNames,
    datasets: moduleNames.map((_, r) => ({ data: [1, 1], backgroundColor: [ramp(corStops, controlCor[r]), ramp(corStops, hnsccCor[r])], barPercentage: 1, categoryPercentage: 1, borderWidth: 0 }))
  }, {
    x: { stacked: true, border: { display: false }, grid: { display: false, drawTicks: false }, ticks: { color: "#111", padding: 8, font: { size: 27 } } },
    y: { ...off, stacked: true, min: 0, max: moduleNames.length, reverse: true }
  }, [frame("#222", 1.6), cells]);
}
function venn() {
  const notes = {
    id: "notes",
    afterDraw(c: any) {
      const g = c.ctx, sx = c.scales.x, sy = c.scales.y;
      g.save(); g.font = `33px ${SERIF}`; g.fillStyle = "#000"; g.textAlign = "center"; g.textBaseline = "middle";
      vennCounts.forEach(([a, b, x, y]: any) => {
        g.fillText(a, sx.getPixelForValue(x), sy.getPixelForValue(y));
        g.fillText(b, sx.getPixelForValue(x), sy.getPixelForValue(y + 21.5));
      });
      g.restore();
    }
  };
  return cfg([620, 515, 1080, 945], [620, 515, 1080, 945], "bubble", {
    datasets: [
      { data: vennSets.map((s) => ({ x: s.x, y: s.y, r: vennRadius })), backgroundColor: "rgba(0,0,0,0)", borderColor: "#fff", borderWidth: 3.5 },
      ...[2, 1, 0].map((i) => ({ data: [{ x: vennSets[i].x, y: vennSets[i].y, r: vennRadius }], backgroundColor: vennSets[i].fill, borderWidth: 0 }))
    ]
  }, { x: { ...off, min: 620, max: 1080 }, y: { ...off, min: 515, max: 945, reverse: true } }, [notes]);
}
function network() {
  const at: any = {};
  netNodes.forEach((n) => { at[n[0] as string] = n; });
  const edges: any[] = [];
  netEdges.forEach((e) => {
    const [a, b] = e.split("-");
    edges.push({ x: at[a][1], y: at[a][2] }, { x: at[b][1], y: at[b][2] }, { x: NaN, y: NaN });
  });
  const names = {
    id: "names",
    afterDraw(c: any) {
      const g = c.ctx, sx = c.scales.x, sy = c.scales.y;
      g.save(); g.font = `20px ${SANS}`; g.fillStyle = "#000"; g.textAlign = "center"; g.textBaseline = "middle";
      netNodes.forEach((n: any) => g.fillText(n[0], sx.getPixelForValue(n[1]), sy.getPixelForValue(n[2])));
      g.restore();
    }
  };
  const b = [1460 / SX, 2620 / SY, 2260 / SX, 3298 / SY];
  return cfg(b, b, "scatter", {
    datasets: [
      { data: netNodes.map((n) => ({ x: n[1], y: n[2] })), pointRadius: 28, pointBackgroundColor: netNodes.map((n) => n[3] as string), pointBorderWidth: 0, showLine: false },
      { data: edges, showLine: true, borderColor: "#000", borderWidth: 1, pointRadius: 0, spanGaps: false }
    ]
  }, { x: { ...off, min: 0, max: 1560 }, y: { ...off, min: 0, max: 1560, reverse: true } }, [names]);
}
const pBar = (max: number) => [[0, pStops[0]], [max * 0.5, pStops[1]], [max, pStops[2]]];
const boldTick = { color: "#000", padding: 6, font: { size: 18, weight: "bold" } };
const whiteGrid = { color: "rgba(255,255,255,0.8)", lineWidth: 1, drawTicks: false };

const boxes: { b: number[]; make: () => any }[] = [
  { b: [40, 36, 560, 535], make: volcano },
  { b: [608, 157, 1000, 180], make: groupBar },
  { b: [608, 179, 1015, 396], make: heatmap },
  { b: [578, 179, 612, 396], make: dendrogram },
  { b: [1005, 148, 1070, 345], make: () => colorBar([1005, 148, 1070, 345], [1012, 158, 1025, 334], -0.846, 2.02, heatTicks, heatStops, { color: "#000", padding: 4, font: { size: 34 } }, (v) => minus(v)) },
  { b: [100, 590, 220, 1046], make: moduleStrip },
  { b: [215, 590, 442, 1064], make: moduleHeat },
  { b: [440, 612, 500, 1025], make: () => colorBar([440, 612, 500, 1025], [444, 621, 455, 1016], -1, 1, corTicks, corStops, { color: "#111", padding: 4, font: { size: 25 } }, (v) => minus(v), { frame: "#222", grid: { display: false, tickLength: 9, tickColor: "#222" } }) },
  { b: [620, 515, 1080, 945], make: venn },
  { b: [0, 1068, 612, 1311], make: () => dotChart([0, 1068, 612, 1311], [327, 1072, 590, 1305], 0.0365, 0.2734, bpTerms, bpRatio, bpCount, bpP, 0.0022, eSizes, eMajor, eMinor, false, 0.6, "BP", (v) => v.toFixed(2), 27) },
  { b: [0, 1305, 612, 1556], make: () => dotChart([0, 1305, 612, 1556], [327, 1309, 590, 1543], 0.0365, 0.2734, mfTerms, mfRatio, mfCount, mfP, 0.0022, eSizes, eMajor, eMinor, true, 0.6, "MF", (v) => v.toFixed(2), 27) },
  { b: [612, 1246, 670, 1302], make: () => colorBar([612, 1246, 670, 1302], [616, 1251, 627, 1297], 0.00018, 0.00227, ePTicks, pBar(0.00227), boldTick, (v) => v.toFixed(4), { grid: whiteGrid }) },
  { b: [612, 1326, 650, 1384], make: () => countLegend([612, 1326, 650, 1384], [614, 1327, 626, 1383], eCountKeys, eSizes) },
  { b: [650, 994, 1116, 1192], make: () => dotChart([650, 994, 1116, 1192], [885, 998, 1112, 1180], 0.0504, 0.1434, keggTerms, keggRatio, keggCount, keggP, 0.0086, fSizes, fMajor, fMinor, true, 0.6, null, (v) => v.toFixed(3), 27.5) },
  { b: [1117, 1030, 1159, 1090], make: () => colorBar([1117, 1030, 1159, 1090], [1121, 1034, 1132, 1086], 0.00098, 0.0086, fPTicks, pBar(0.0086), boldTick, (v) => v.toFixed(3), { grid: whiteGrid }) },
  { b: [1117, 1114, 1150, 1161], make: () => countLegend([1117, 1114, 1150, 1161], [1119, 1116, 1131, 1159], fCountKeys, fSizes) },
  { b: [1460 / SX, 2620 / SY, 2260 / SX, 3298 / SY], make: network }
];

const letters = [["(A)", 48, 16], ["(B)", 588, 152], ["(C)", 134, 567], ["(D)", 611, 485], ["(E)", 48, 1063], ["(F)", 639, 985], ["(G)", 719, 1268]];

export default function App() {
  useEffect(() => { document.body.style.margin = "0"; document.body.style.background = "#fff"; }, []);
  return (
    <div style={{ position: "absolute", left: 0, top: 0, width: 2439, height: 3298, overflow: "hidden", background: "#fff" }}>
      {boxes.map((x, i) => <Box key={i} b={x.b} make={x.make} />)}
      {letters.map(([s, x, y]: any) => <Tx key={s} s={s} x={x} y={y} size={50} bold family={SANS} />)}

      <Tx s="HNSCC vs. Control" x={316} y={10} size={32} bold />
      <Tx s="P.Adjust:  0.05; log2FC: 1.00; Up: 6298; Down: 3887; Total: 10185" x={315} y={28} size={21.5} italic />
      <Tx s="log2 (Fold Change)" x={315} y={539} size={32} bold />
      <Tx s={"\u2212log10 (P.Adjust)"} x={51} y={277} size={37} bold rot={-90} />
      <Rect l={75} t={40} r={131} b={107} bg="#fff" bd="1.5px solid #555" />
      {[["Up", 60, "#f2a58c"], ["Not", 77, "#dfdfdf"], ["Down", 94, "#8d91c9"]].map(([s, y, c]: any) => (
        <React.Fragment key={s}>
          <div style={{ position: "absolute", left: 86 * SX - 5, top: y * SY - 5, width: 10, height: 10, borderRadius: 5, background: c }} />
          <Tx s={s} x={100} y={y + 1} size={21} bold align="left" />
        </React.Fragment>
      ))}

      <Tx s="group" x={934} y={170} size={34} bold align="left" />
      <Tx s="group" x={1069} y={166} size={34} bold align="left" />
      <Rect l={1069} t={177} r={1092} b={201} bg={groupColors[1]} />
      <Rect l={1069} t={201} r={1092} b={224} bg={groupColors[0]} />
      <Tx s="HNSCC" x={1097} y={189} size={36} align="left" />
      <Tx s="Control" x={1097} y={212} size={36} align="left" />

      <Tx s={"Module\u2212HNSCC relationships"} x={346} y={574} size={27} bold />

      <Tx s="DEG" x={748} y={497} size={46} color="#ec7e73" />
      <Tx s="Module genes" x={949} y={497} size={46} color="#90d1c7" />
      <Tx s="PMRGs" x={848} y={965} size={46} color="#c6cee0" />

      <Tx s="GeneRatio" x={458} y={1559} size={30} bold />
      <Tx s="pvalue" x={616} y={1240} size={24} bold align="left" />
      <Tx s="Count" x={616} y={1319} size={24} bold align="left" />
      <Tx s="GeneRatio" x={998} y={1196} size={30} bold />
      <Tx s="pvalue" x={1121} y={1026} size={24} bold align="left" />
      <Tx s="Count" x={1121} y={1106} size={24} bold align="left" />
    </div>
  );
}
